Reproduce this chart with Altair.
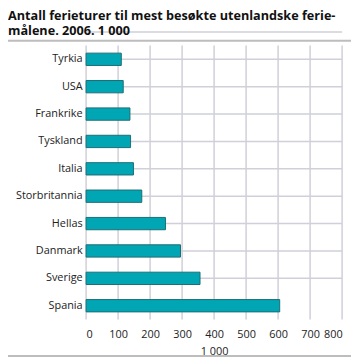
import altair as alt
import pandas as pd

countries = ["Tyrkia", "USA", "Frankrike", "Tyskland", "Italia",
             "Storbritannia", "Hellas", "Danmark", "Sverige", "Spania"]
values = [110, 116, 137, 139, 148, 174, 248, 295, 356, 605]
x_ticks = [0, 100, 200, 300, 400, 500, 600, 700, 800]
title_lines = ["Antall ferieturer til mest besøkte utenlandske ferie-",
               "målene. 2006. 1 000"]
x_title = "1 000"

df = pd.DataFrame({"land": countries, "antall": values})
tick_df = pd.DataFrame({"v": x_ticks})

FONT = "Open Sans"
GRID = "#cfd0d9"
W, H = 259, 277
STEP = H / len(countries)

x_scale = alt.Scale(domain=[0, 800], nice=False)
x_axis = alt.Axis(values=x_ticks, title=x_title, grid=False,
                  ticks=False, domain=False, labelFontSize=11,
                  labelFont=FONT, labelColor="#222222",
                  labelPadding=9, titleFont=FONT, titleFontSize=11,
                  titleFontWeight="normal", titleColor="#222222",
                  titlePadding=6)
y_axis = alt.Axis(title=None, grid=False, ticks=False,
                  domain=False, labelFontSize=11, labelFont=FONT,
                  labelColor="#222222", labelPadding=4)
y_scale = alt.Scale(paddingInner=0, paddingOuter=0)

# vertical grid lines as thin ticks spanning the plot height
vgrid = alt.Chart(tick_df).mark_tick(
    color=GRID, size=H, thickness=1.5, opacity=1
).encode(
    x=alt.X("v:Q", scale=x_scale, axis=x_axis),
)
# horizontal grid lines at category boundaries as thin bars
hgrid = alt.Chart(df).mark_bar(color=GRID, height=1.5).encode(
    y=alt.Y("land:N", sort=countries, scale=y_scale, axis=y_axis),
    x=alt.value(0), x2=alt.value(W),
    yOffset=alt.value(-STEP / 2),
)

bars = alt.Chart(df).mark_bar(
    height={"band": 0.45}, color="#00a6b4", stroke="#1d6c74", strokeWidth=1
).encode(
    y=alt.Y("land:N", sort=countries, scale=y_scale, axis=y_axis),
    x=alt.X("antall:Q", scale=x_scale, axis=x_axis),
)

def text_line(txt, yv):
    return alt.Chart(pd.DataFrame({"t": [txt]})).mark_text(
        align="left", baseline="middle", font=FONT, fontSize=12.8,
        fontWeight="bold", color="#111111"
    ).encode(text="t:N", x=alt.value(-79), y=alt.value(yv))

def hband(y1, y2):
    return alt.Chart(pd.DataFrame({"a": [0]})).mark_rect(
        color="#bdbdbd"
    ).encode(x=alt.value(-79), x2=alt.value(268),
             y=alt.value(y1), y2=alt.value(y2))

chart = alt.layer(
    vgrid,
    hgrid,
    bars,
    text_line(title_lines[0], -30),
    text_line(title_lines[1], -15),
    hband(-6, -4),
    hband(313, 315),
).properties(width=W, height=H, padding=0).configure_view(stroke=None)

chart.save("out.html", embed_options={"renderer": "svg", "actions": False})
